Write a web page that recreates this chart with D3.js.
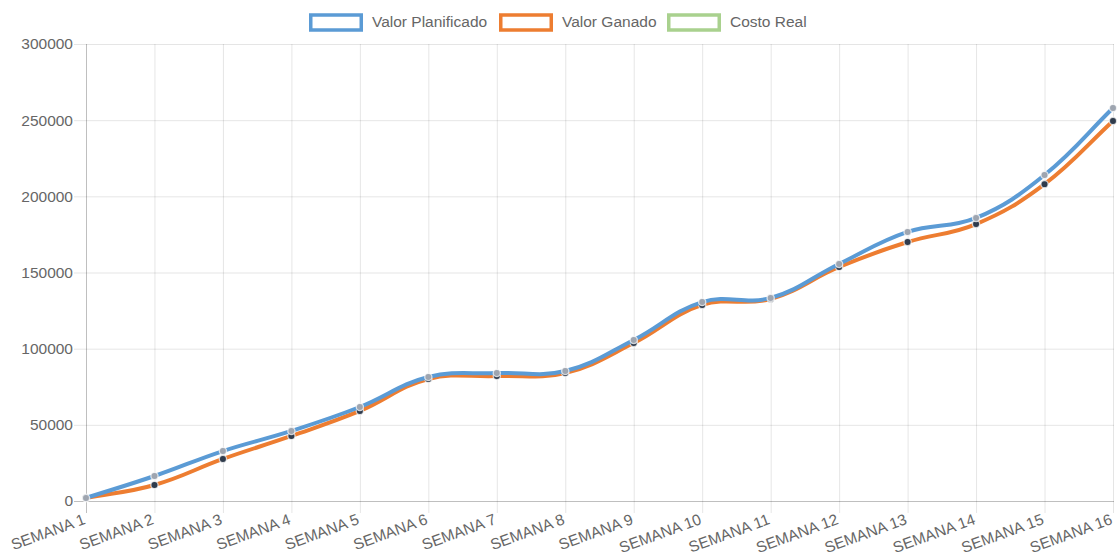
<!DOCTYPE html>
<html><head><meta charset="utf-8">
<script src="https://cdn.jsdelivr.net/npm/d3@7"></script>
<style>html,body{margin:0;padding:0;background:#fff;}svg{display:block;}</style>
</head><body>
<svg id="chart" width="1117" height="559"></svg>
<script>
const categories = ["SEMANA 1","SEMANA 2","SEMANA 3","SEMANA 4","SEMANA 5","SEMANA 6","SEMANA 7","SEMANA 8","SEMANA 9","SEMANA 10","SEMANA 11","SEMANA 12","SEMANA 13","SEMANA 14","SEMANA 15","SEMANA 16"];
const valorPlanificado = [2000,16400,32800,46000,61700,81400,84000,85300,105700,130600,133300,155600,176600,185800,214000,258000];
const valorGanado = [2000,10500,27600,42700,59100,80100,82000,84000,103700,128700,132600,153600,170000,181800,208000,249500];
const costoReal = [];
const yTicks = [0,50000,100000,150000,200000,250000,300000];
const seriesNames = ["Valor Planificado","Valor Ganado","Costo Real"];

const svg = d3.select("#chart");
const font = "'Liberation Sans', Arial, Helvetica, sans-serif";
const fs = 15.5;
const L = 86, R = 1113, T = 44, B = 501;
const x = d3.scalePoint().domain(categories).range([L, R]);
const y = d3.scaleLinear().domain([0, 300000]).range([B, T]);

// grid
const grid = svg.append("g");
yTicks.forEach(t => {
  grid.append("line").attr("x1", L - 12).attr("x2", R + 1).attr("y1", y(t) + 0.5).attr("y2", y(t) + 0.5)
    .attr("stroke", t === 0 ? "rgba(0,0,0,0.25)" : "rgba(0,0,0,0.1)").attr("stroke-width", 1);
});
categories.forEach((c, i) => {
  grid.append("line").attr("x1", x(c) + 0.5).attr("x2", x(c) + 0.5).attr("y1", T).attr("y2", B + 12)
    .attr("stroke", i === 0 ? "rgba(0,0,0,0.25)" : "rgba(0,0,0,0.1)").attr("stroke-width", 1);
});

// y labels
svg.append("g").selectAll("text").data(yTicks).join("text")
  .attr("x", 73).attr("y", d => y(d)).attr("dy", "0.35em").attr("text-anchor", "end")
  .attr("font-family", font).attr("font-size", fs).attr("fill", "#666").text(d => d);

// x labels
svg.append("g").selectAll("text").data(categories).join("text")
  .attr("transform", d => `translate(${x(d) - 4},${B + 11}) rotate(-20)`)
  .attr("text-anchor", "end").attr("dy", "0.8em")
  .attr("font-family", font).attr("font-size", fs).attr("fill", "#666").text(d => d);

// Chart.js-like spline curve
function SplineCurve(context) { this._context = context; }
SplineCurve.prototype = {
  areaStart() {}, areaEnd() {},
  lineStart() { this._pts = []; },
  point(px, py) { this._pts.push([px, py]); },
  lineEnd() {
    const p = this._pts, n = p.length, t = 0.4, ctx = this._context;
    if (!n) return;
    const cps = p.map((cur, i) => {
      const prev = p[i - 1] || cur, next = p[i + 1] || cur;
      const d01 = Math.hypot(cur[0] - prev[0], cur[1] - prev[1]);
      const d12 = Math.hypot(next[0] - cur[0], next[1] - cur[1]);
      let s01 = d01 / (d01 + d12), s12 = d12 / (d01 + d12);
      if (!isFinite(s01)) s01 = 0; if (!isFinite(s12)) s12 = 0;
      const fa = t * s01, fb = t * s12;
      return {
        prev: [cur[0] - fa * (next[0] - prev[0]), cur[1] - fa * (next[1] - prev[1])],
        next: [cur[0] + fb * (next[0] - prev[0]), cur[1] + fb * (next[1] - prev[1])]
      };
    });
    ctx.moveTo(p[0][0], p[0][1]);
    for (let i = 1; i < n; i++) {
      ctx.bezierCurveTo(cps[i - 1].next[0], cps[i - 1].next[1], cps[i].prev[0], cps[i].prev[1], p[i][0], p[i][1]);
    }
  }
};
const splineCurve = ctx => new SplineCurve(ctx);

const series = [
  { name: seriesNames[0], values: valorPlanificado, color: "#5b9bd5", pt: "#9ea5b0" },
  { name: seriesNames[1], values: valorGanado, color: "#ed7d31", pt: "#2f3b4c" },
  { name: seriesNames[2], values: costoReal, color: "#a9d18e", pt: "#888" }
];

const line = d3.line().x((d, i) => x(categories[i])).y(d => y(d)).curve(splineCurve);
// draw in reverse order so first dataset is on top
series.slice().reverse().forEach(s => {
  if (!s.values.length) return;
  svg.append("path").attr("d", line(s.values)).attr("fill", "none")
    .attr("stroke", s.color).attr("stroke-width", 4).attr("stroke-linejoin", "round");
  svg.append("g").selectAll("circle").data(s.values).join("circle")
    .attr("cx", (d, i) => x(categories[i])).attr("cy", d => y(d)).attr("r", 3.6)
    .attr("fill", s.pt).attr("stroke", "rgba(255,255,255,0.7)").attr("stroke-width", 1.3);
});

// legend
const legendX = [309, 499, 667];
const lg = svg.append("g");
series.forEach((s, i) => {
  lg.append("rect").attr("x", legendX[i] + 1.75).attr("y", 15).attr("width", 50.5).attr("height", 15)
    .attr("fill", "#fff").attr("stroke", s.color).attr("stroke-width", 3.5);
  lg.append("text").attr("x", legendX[i] + 63).attr("y", 22).attr("dy", "0.35em")
    .attr("font-family", font).attr("font-size", fs).attr("fill", "#666").text(s.name);
});
</script>
</body></html>
